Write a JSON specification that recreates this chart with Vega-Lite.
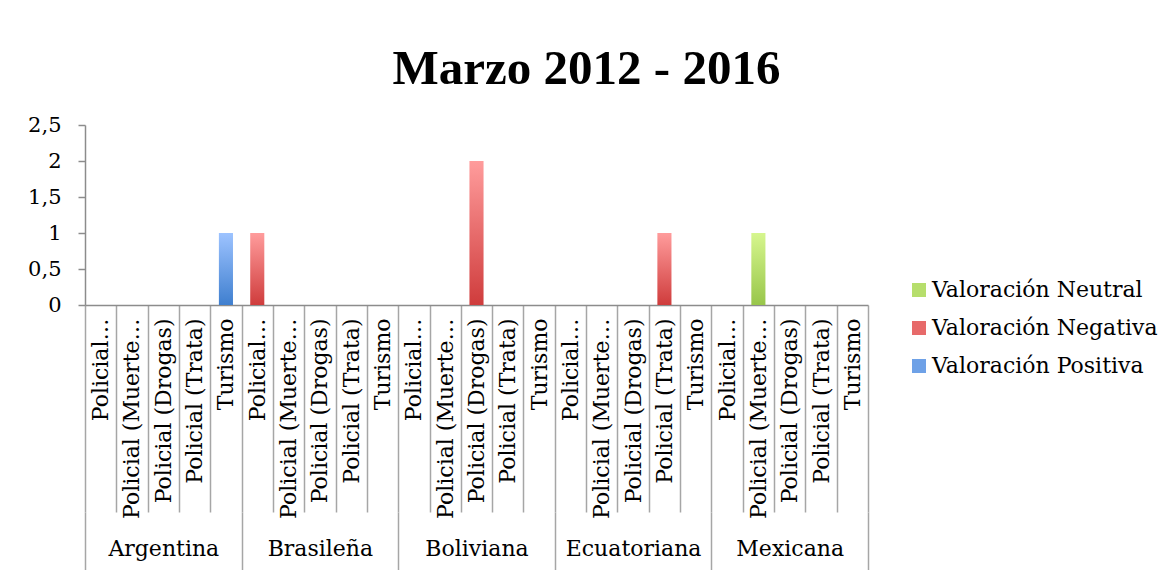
{
  "$schema": "https://vega.github.io/schema/vega-lite/v6.json",
  "width": 783,
  "height": 180,
  "autosize": {"type": "none"},
  "padding": {"left": 85, "top": 125, "right": 306, "bottom": 265},
  "background": "white",
  "title": {
    "text": "Marzo 2012 - 2016",
    "font": "Liberation Serif",
    "fontSize": 49,
    "fontWeight": "bold",
    "color": "black",
    "anchor": "middle",
    "frame": "group",
    "baseline": "alphabetic",
    "dx": 110,
    "offset": -19
  },
  "data": {
    "values": [
      {"pais": "Argentina", "tipo": "Turismo", "serie": "Valoración Positiva", "valor": 1},
      {"pais": "Brasileña", "tipo": "Policial…", "serie": "Valoración Negativa", "valor": 1},
      {"pais": "Boliviana", "tipo": "Policial (Drogas)", "serie": "Valoración Negativa", "valor": 2},
      {"pais": "Ecuatoriana", "tipo": "Policial (Trata)", "serie": "Valoración Negativa", "valor": 1},
      {"pais": "Mexicana", "tipo": "Policial (Muerte…", "serie": "Valoración Neutral", "valor": 1}
    ]
  },
  "transform": [{"calculate": "datum.pais + '|' + datum.tipo", "as": "clave"}],
  "layer": [
    {
      "encoding": {
        "x": {
          "field": "clave",
          "type": "nominal",
          "sort": null,
          "scale": {
            "type": "band",
            "paddingInner": 0,
            "paddingOuter": 0,
            "domain": [
              "Argentina|Policial…", "Argentina|Policial (Muerte…", "Argentina|Policial (Drogas)", "Argentina|Policial (Trata)", "Argentina|Turismo",
              "Brasileña|Policial…", "Brasileña|Policial (Muerte…", "Brasileña|Policial (Drogas)", "Brasileña|Policial (Trata)", "Brasileña|Turismo",
              "Boliviana|Policial…", "Boliviana|Policial (Muerte…", "Boliviana|Policial (Drogas)", "Boliviana|Policial (Trata)", "Boliviana|Turismo",
              "Ecuatoriana|Policial…", "Ecuatoriana|Policial (Muerte…", "Ecuatoriana|Policial (Drogas)", "Ecuatoriana|Policial (Trata)", "Ecuatoriana|Turismo",
              "Mexicana|Policial…", "Mexicana|Policial (Muerte…", "Mexicana|Policial (Drogas)", "Mexicana|Policial (Trata)", "Mexicana|Turismo"
            ]
          },
          "axis": {
            "title": null,
            "orient": "bottom",
            "labelAngle": -90,
            "labelAlign": "right",
            "labelBaseline": "middle",
            "labelExpr": "split(datum.label, '|')[1]",
            "tickBand": "extent",
            "tickSize": 207,
            "labelPadding": -194,
            "labelFont": "DejaVu Serif",
            "labelFontSize": 22,
            "labelColor": "black",
            "labelLimit": 300,
            "labelOverlap": false,
            "labelBound": false,
            "labelFlush": false,
            "domainColor": "#8c8c8c",
            "domainWidth": 1.5,
            "tickColor": "#a6a6a6",
            "tickWidth": 1.5
          }
        },
        "y": {
          "field": "valor",
          "type": "quantitative",
          "scale": {"domain": [0, 2.5], "nice": false},
          "axis": {
            "title": null,
            "values": [0, 0.5, 1, 1.5, 2, 2.5],
            "format": ".1~f",
            "labelExpr": "replace(datum.label, '.', ',')",
            "grid": false,
            "tickSize": 7,
            "labelPadding": 17,
            "labelFont": "DejaVu Serif",
            "labelFontSize": 21,
            "labelColor": "black",
            "domainColor": "#8c8c8c",
            "domainWidth": 1.5,
            "tickColor": "#8c8c8c",
            "tickWidth": 1.5
          }
        }
      },
      "layer": [
        {
          "transform": [{"filter": "datum.serie == 'Valoración Neutral'"}],
          "mark": {"type": "bar", "width": {"band": 0.45},
            "color": {"gradient": "linear", "x1": 0, "y1": 0, "x2": 0, "y2": 1, "stops": [{"offset": 0, "color": "#d6f68e"}, {"offset": 1, "color": "#98c64a"}]}}
        },
        {
          "transform": [{"filter": "datum.serie == 'Valoración Negativa'"}],
          "mark": {"type": "bar", "width": {"band": 0.45},
            "color": {"gradient": "linear", "x1": 0, "y1": 0, "x2": 0, "y2": 1, "stops": [{"offset": 0, "color": "#ff9c9c"}, {"offset": 1, "color": "#cf3c3c"}]}}
        },
        {
          "transform": [{"filter": "datum.serie == 'Valoración Positiva'"}],
          "mark": {"type": "bar", "width": {"band": 0.45},
            "color": {"gradient": "linear", "x1": 0, "y1": 0, "x2": 0, "y2": 1, "stops": [{"offset": 0, "color": "#9dc3ff"}, {"offset": 1, "color": "#3f7fcf"}]}}
        },
        {
          "mark": {"type": "bar"},
          "encoding": {
            "y": {"datum": 0, "type": "quantitative"},
            "y2": {"datum": 0},
            "color": {
              "field": "serie",
              "type": "nominal",
              "scale": {
                "domain": ["Valoración Neutral", "Valoración Negativa", "Valoración Positiva"],
                "range": ["#b6de6c", "#e76a6a", "#6ea1e7"]
              },
              "legend": {
                "title": null,
                "orient": "none",
                "legendX": 823,
                "legendY": 154,
                "padding": 0,
                "symbolType": "square",
                "symbolSize": 196,
                "symbolStrokeWidth": 0,
                "labelFont": "DejaVu Serif",
                "labelFontSize": 22,
                "labelColor": "black",
                "labelOffset": 2,
                "rowPadding": 16,
                "labelLimit": 300,
                "encode": {
                  "symbols": {
                    "update": {
                      "fill": {"signal": "datum.label == 'Valoración Neutral' ? {gradient: 'linear', x1: 0, y1: 0, x2: 0, y2: 1, stops: [{offset: 0, color: '#d6f68e'}, {offset: 1, color: '#98c64a'}]} : datum.label == 'Valoración Negativa' ? {gradient: 'linear', x1: 0, y1: 0, x2: 0, y2: 1, stops: [{offset: 0, color: '#ff9c9c'}, {offset: 1, color: '#cf3c3c'}]} : {gradient: 'linear', x1: 0, y1: 0, x2: 0, y2: 1, stops: [{offset: 0, color: '#9dc3ff'}, {offset: 1, color: '#3f7fcf'}]}"}
                    }
                  }
                }
              }
            }
          }
        }
      ]
    },
    {
      "mark": {"type": "bar", "opacity": 0},
      "encoding": {
        "x": {
          "field": "pais",
          "type": "nominal",
          "sort": null,
          "scale": {
            "type": "band",
            "paddingInner": 0,
            "paddingOuter": 0,
            "domain": ["Argentina", "Brasileña", "Boliviana", "Ecuatoriana", "Mexicana"]
          },
          "axis": {
            "title": null,
            "orient": "bottom",
            "offset": 207,
            "domain": false,
            "tickBand": "extent",
            "tickSize": 58,
            "labelPadding": -22,
            "labelAngle": 0,
            "labelAlign": "center",
            "labelBaseline": "middle",
            "labelFont": "DejaVu Serif",
            "labelFontSize": 22,
            "labelColor": "black",
            "labelOverlap": false,
            "labelBound": false,
            "labelFlush": false,
            "labelLimit": 300,
            "tickColor": "#a6a6a6",
            "tickWidth": 1.5
          }
        }
      }
    }
  ],
  "resolve": {"scale": {"x": "independent"}, "axis": {"x": "independent"}},
  "config": {"view": {"stroke": null}, "font": "DejaVu Serif"}
}
